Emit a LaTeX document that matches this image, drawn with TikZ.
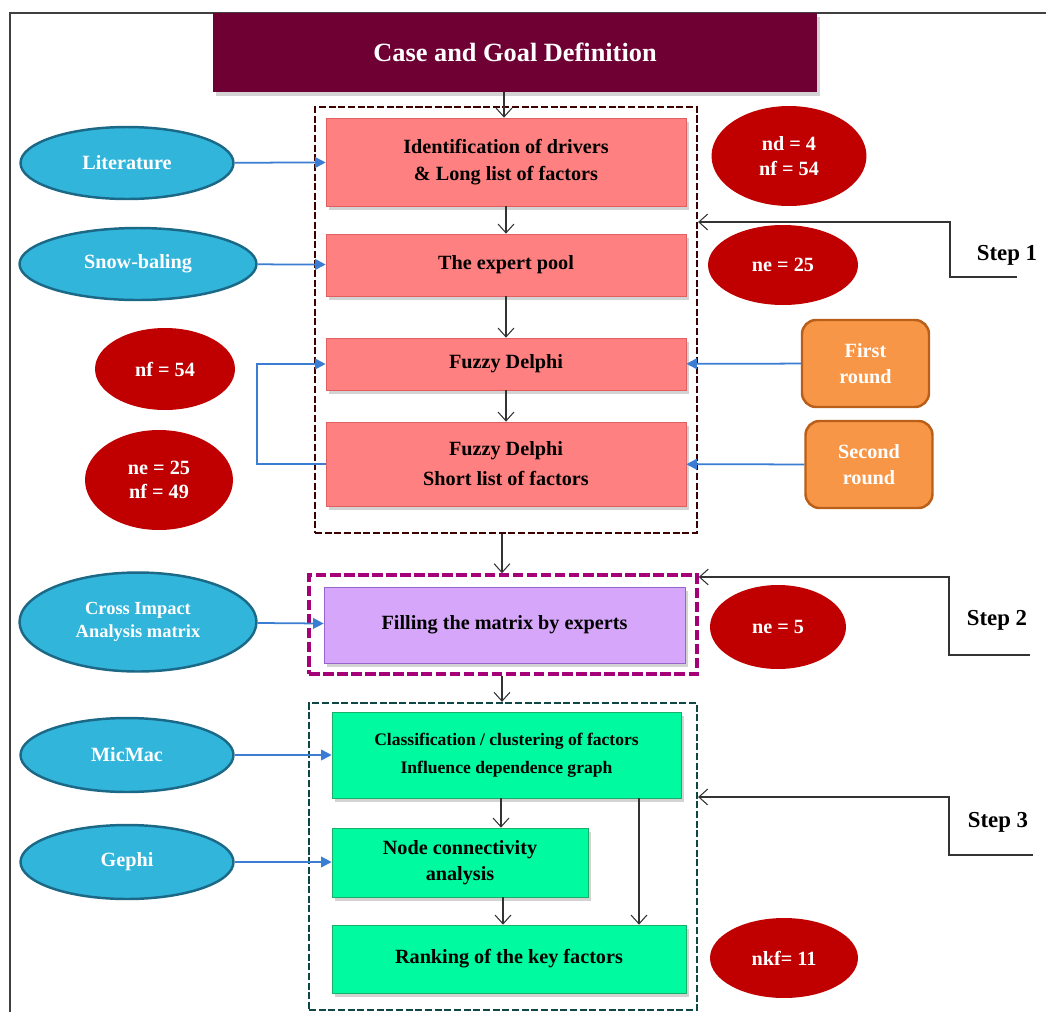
\documentclass[tikz,border=0pt]{standalone}
\usepackage{fontspec}
\setmainfont{Liberation Serif}
\usetikzlibrary{shapes.geometric,arrows.meta,shadows}

\definecolor{topfill}{RGB}{110,0,52}
\definecolor{pinkfill}{RGB}{255,128,128}
\definecolor{pinkline}{RGB}{225,95,95}
\definecolor{redfill}{RGB}{192,0,0}
\definecolor{bluefill}{RGB}{49,181,219}
\definecolor{blueline}{RGB}{28,105,135}
\definecolor{orangefill}{RGB}{247,150,70}
\definecolor{orangeline}{RGB}{185,95,25}
\definecolor{violetfill}{RGB}{214,166,250}
\definecolor{violetline}{RGB}{150,100,205}
\definecolor{greenfill}{RGB}{0,250,160}
\definecolor{greenline}{RGB}{25,175,105}
\definecolor{arrowblue}{RGB}{58,125,210}
\definecolor{frameone}{RGB}{60,0,0}
\definecolor{frametwo}{RGB}{165,0,120}
\definecolor{framethree}{RGB}{15,70,70}

\begin{document}
\begin{tikzpicture}[x=0.02cm,y=-0.02cm,
        font=\bfseries\fontsize{11.5}{15}\selectfont,
        sh/.style={drop shadow={opacity=0.35,shadow xshift=1.5pt,shadow yshift=-2pt}},
        pbox/.style={rectangle, draw=pinkline, fill=pinkfill, sh,
                        align=center, inner sep=0pt, minimum width=7.2cm},
        gbox/.style={rectangle, draw=greenline, fill=greenfill, sh,
                        align=center, inner sep=0pt},
        rell/.style={ellipse, fill=redfill, text=white,
                        align=center, inner sep=0pt},
        bell/.style={ellipse, draw=blueline, line width=1.4pt, fill=bluefill,
                        text=white, align=center, inner sep=0pt},
        obox/.style={rectangle, rounded corners=8pt, draw=orangeline, line width=1.4pt,
                        fill=orangefill, text=white, align=center,
                        minimum width=2.54cm, minimum height=1.74cm},
        frm/.style={rectangle, draw=#1, line width=1.3pt,
                        dash pattern=on 4pt off 1.5pt, inner sep=0pt},
        arr/.style={-{Straight Barb[length=5pt,width=9pt]}, line width=0.6pt, black!80},
        barr/.style={-{Triangle[length=6pt,width=6pt]}, line width=1pt, arrowblue},
        steptxt/.style={font=\bfseries\fontsize{13}{15}\selectfont}]
    \useasboundingbox (0,0) rectangle (1046,1012);
    \draw [black!75, line width=1pt] (10,1012) -- (10,13) -- (1046,13);

    % dashed frames
    \node[frm=frameone, minimum width=7.64cm, minimum height=8.52cm] (s1) at (506,320) {};
    \node[frm=frametwo, line width=2pt, dash pattern=on 6pt off 2pt,
          minimum width=7.76cm, minimum height=1.98cm] (s2) at (503,624.5) {};
    \node[frm=framethree, minimum width=7.76cm, minimum height=6.14cm] (s3) at (503,856.5) {};

    % main boxes
    \node[rectangle, fill=topfill, sh, text=white, minimum width=12.08cm, minimum height=1.58cm,
          font=\bfseries\fontsize{15}{18}\selectfont] (top) at (515,52.5) {Case and Goal Definition};
    \node[pbox, minimum height=1.76cm] (B1) at (506,162)
        {Identification of drivers\\ \& Long list of factors};
    \node[pbox, minimum height=1.24cm] (B2) at (506,265) {The expert pool};
    \node[pbox, minimum height=1.04cm] (B3) at (506,364) {Fuzzy Delphi};
    \node[pbox, minimum height=1.68cm, font=\bfseries\fontsize{11.5}{17}\selectfont] (B4) at (506,464)
        {Fuzzy Delphi\\ Short list of factors};
    \node[rectangle, draw=violetline, fill=violetfill, sh, minimum width=7.22cm,
          minimum height=1.52cm] (P) at (504.5,625) {Filling the matrix by experts};
    \node[gbox, minimum width=6.98cm, minimum height=1.72cm,
          font=\bfseries\fontsize{10}{16}\selectfont] (G1) at (506.5,755)
        {Classification / clustering of factors\\ Influence dependence graph};
    \node[gbox, minimum width=5.12cm, minimum height=1.38cm] (G2) at (460,862.5)
        {Node connectivity\\ analysis};
    \node[gbox, minimum width=7.08cm, minimum height=1.36cm] (G3) at (509,959)
        {Ranking of the key factors};

    % red counts
    \node[rell, minimum width=3.1cm, minimum height=2cm, font=\bfseries\fontsize{11.5}{14}\selectfont]
        (E1) at (789,156) {nd = 4\\ nf = 54};
    \node[rell, minimum width=3cm, minimum height=1.6cm] (E2) at (783,265) {ne = 25};
    \node[rell, minimum width=2.8cm, minimum height=1.64cm] (E3) at (165,369) {nf = 54};
    \node[rell, minimum width=2.96cm, minimum height=2cm, font=\bfseries\fontsize{11.5}{14}\selectfont]
        (E4) at (159,480) {ne = 25\\ nf = 49};
    \node[rell, minimum width=2.72cm, minimum height=1.68cm] (E5) at (778,627) {ne = 5};
    \node[rell, minimum width=2.96cm, minimum height=1.6cm] (E6) at (784,958) {nkf= 11};

    % sources
    \node[bell, minimum width=4.26cm, minimum height=1.44cm] (L1) at (127,163) {Literature};
    \node[bell, minimum width=4.74cm, minimum height=1.44cm] (L2) at (138,264) {Snow-baling};
    \node[bell, minimum width=4.74cm, minimum height=1.98cm,
          font=\bfseries\fontsize{10.5}{13}\selectfont] (L3) at (138,622) {Cross Impact\\ Analysis matrix};
    \node[bell, minimum width=4.26cm, minimum height=1.48cm] (L4) at (127,755) {MicMac};
    \node[bell, minimum width=4.26cm, minimum height=1.48cm] (L5) at (127,862) {Gephi};

    % rounds
    \node[obox] (O1) at (865.5,363.5) {First\\ round};
    \node[obox] (O2) at (869,464.5) {Second\\ round};

    % step labels
    \node[steptxt] (st1) at (1007,255) {Step 1};
    \node[steptxt] (st2) at (997,620) {Step 2};
    \node[steptxt] (st3) at (998,822) {Step 3};
    \coordinate (t1) at (1017,277);
    \coordinate (t2) at (1030,655);
    \coordinate (t3) at (1033,855);

    % flow
    \draw[arr] (top.south -| 504,0) -- (B1.north -| 504,0);
    \draw[arr] (B1) -- (B2);
    \draw[arr] (B2) -- (B3);
    \draw[arr] (B3) -- (B4);
    \draw[arr] (s1.south -| 502,0) -- (s2.north -| 502,0);
    \draw[arr] (s2.south -| 502,0) -- (s3.north -| 502,0);
    \draw[arr] (G1.south -| 501,0) -- (G2.north -| 501,0);
    \draw[arr] (G2.south -| 503,0) -- (G3.north -| 503,0);
    \draw[arr] (G1.south -| 639,0) -- (G3.north -| 639,0);

    \draw[barr] (L1) -- (B1);
    \draw[barr] (L2) -- (B2);
    \draw[barr] (L3) -- (P);
    \draw[barr] (L4) -- (G1);
    \draw[barr] (L5.east) -- (G2.west |- L5.east);
    \draw[barr] (O1) -- (B3);
    \draw[barr] (O2) -- (B4);
    \draw[barr] (B4.west) -- ++(-69,0) |- (B3.west);

    \draw[arr] (t1) -- (950,277) |- (s1.east |- 0,222);
    \draw[arr] (t2) -- (949,655) |- (s2.east |- 0,577);
    \draw[arr] (t3) -- (949,855) |- (s3.east |- 0,797);
\end{tikzpicture}
\end{document}
